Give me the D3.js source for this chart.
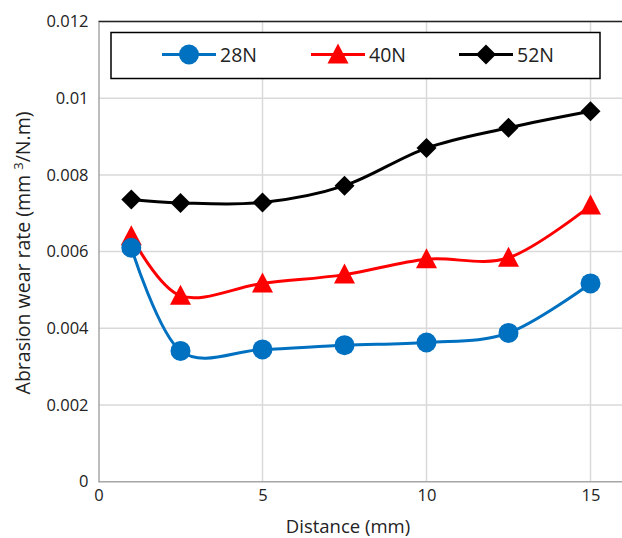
<!DOCTYPE html>
<html><head><meta charset="utf-8">
<script src="https://cdn.jsdelivr.net/npm/d3@7"></script>
<style>body{margin:0;background:#fff;} svg{display:block;}</style>
</head><body>
<script>
const distance = [1, 2.5, 5, 7.5, 10, 12.5, 15];
const s28N = [0.0061, 0.00341, 0.00345, 0.00356, 0.00363, 0.00388, 0.00517];
const s40N = [0.0064, 0.00485, 0.00517, 0.0054, 0.0058, 0.00584, 0.0072];
const s52N = [0.00736, 0.00727, 0.00728, 0.00772, 0.0087, 0.00923, 0.00966];
const seriesNames = ["28N", "40N", "52N"];
const xTicks = [0, 5, 10, 15];
const yTicks = [0, 0.002, 0.004, 0.006, 0.008, 0.01, 0.012];
const yTickLabels = ["0", "0.002", "0.004", "0.006", "0.008", "0.01", "0.012"];

const W = 622, H = 538;
const L = 98.5, R = 623.3, T = 21.5, B = 481.7;
const font = "'Open Sans', sans-serif";
const svg = d3.select("body").append("svg").attr("width", W).attr("height", H);
const x = d3.scaleLinear().domain([0, 16]).range([L, R]);
const y = d3.scaleLinear().domain([0, 0.012]).range([B, T]);

// gridlines
svg.append("g").selectAll("line.h").data(yTicks.slice(1)).join("line")
  .attr("x1", L).attr("x2", W).attr("y1", d => y(d)).attr("y2", d => y(d))
  .attr("stroke", "#d9d9d9").attr("stroke-width", 1.5);
svg.append("g").selectAll("line.v").data(xTicks.slice(1)).join("line")
  .attr("x1", d => x(d)).attr("x2", d => x(d)).attr("y1", T).attr("y2", B)
  .attr("stroke", "#d9d9d9").attr("stroke-width", 1.5);

// top border
svg.append("line").attr("x1", L).attr("x2", W).attr("y1", T).attr("y2", T)
  .attr("stroke", "#222").attr("stroke-width", 1.5);

// axes
const xAxis = svg.append("g").attr("transform", `translate(0,${B})`)
  .call(d3.axisBottom(x).tickValues(xTicks).tickSize(0).tickPadding(8).tickFormat(d3.format("d")));
xAxis.select(".domain").attr("stroke", "#a6a6a6").attr("stroke-width", 1.5).attr("d", `M${L},0H${W}`);
xAxis.selectAll("text").attr("font-family", font).attr("font-size", 16.5).attr("fill", "#222");

const yAxis = svg.append("g").attr("transform", `translate(${L},0)`)
  .call(d3.axisLeft(y).tickValues(yTicks).tickSize(0).tickPadding(10).tickFormat((d, i) => yTickLabels[i]));
yAxis.select(".domain").attr("stroke", "#a6a6a6").attr("stroke-width", 1.5);
yAxis.selectAll("text").attr("font-family", font).attr("font-size", 16.5).attr("fill", "#222");

// axis titles
svg.append("text").attr("x", 348).attr("y", 533).attr("text-anchor", "middle")
  .attr("font-family", font).attr("font-size", 18.5).attr("fill", "#222").text("Distance (mm)");
const yt = svg.append("text").attr("transform", `translate(30,253) rotate(-90)`).attr("text-anchor", "middle")
  .attr("font-family", font).attr("font-size", 19.5).attr("fill", "#222");
yt.append("tspan").text("Abrasion wear rate (mm ");
yt.append("tspan").attr("font-size", 13).attr("dy", -7).text("3");
yt.append("tspan").attr("dy", 7).text("/N.m)");

// series
const colors = ["#0070C0", "#FF0000", "#000000"];
const allSeries = [s28N, s40N, s52N];
const line = d3.line().x(d => x(d[0])).y(d => y(d[1])).curve(d3.curveCatmullRom.alpha(0));

function marker(g, i, cx, cy) {
  if (i === 0) {
    g.append("circle").attr("cx", cx).attr("cy", cy).attr("r", 10).attr("fill", colors[i]);
  } else if (i === 1) {
    g.append("path").attr("d", `M${cx},${cy - 11}L${cx + 10.5},${cy + 9}L${cx - 10.5},${cy + 9}Z`).attr("fill", colors[i]);
  } else {
    g.append("path").attr("d", `M${cx},${cy - 10}L${cx + 10},${cy}L${cx},${cy + 10}L${cx - 10},${cy}Z`).attr("fill", colors[i]);
  }
}

[2, 1, 0].forEach(i => {
  const data = distance.map((d, k) => [d, allSeries[i][k]]);
  const g = svg.append("g");
  g.append("path").attr("d", line(data)).attr("fill", "none").attr("stroke", colors[i]).attr("stroke-width", 3);
  data.forEach(d => marker(g, i, x(d[0]), y(d[1])));
});

// legend
svg.append("rect").attr("x", 111).attr("y", 32.5).attr("width", 489).attr("height", 46)
  .attr("fill", "#fff").attr("stroke", "#000").attr("stroke-width", 1.5);
const legX = [162, 311, 459];
seriesNames.forEach((n, i) => {
  const g = svg.append("g");
  const lx = legX[i], ly = 54.5;
  g.append("line").attr("x1", lx).attr("x2", lx + 54).attr("y1", ly).attr("y2", ly)
    .attr("stroke", colors[i]).attr("stroke-width", 3);
  marker(g, i, lx + 27, ly);
  g.append("text").attr("x", lx + 58).attr("y", ly + 7).attr("font-family", font).attr("font-size", 19.5)
    .attr("fill", "#222").text(n);
});
</script>
</body></html>
